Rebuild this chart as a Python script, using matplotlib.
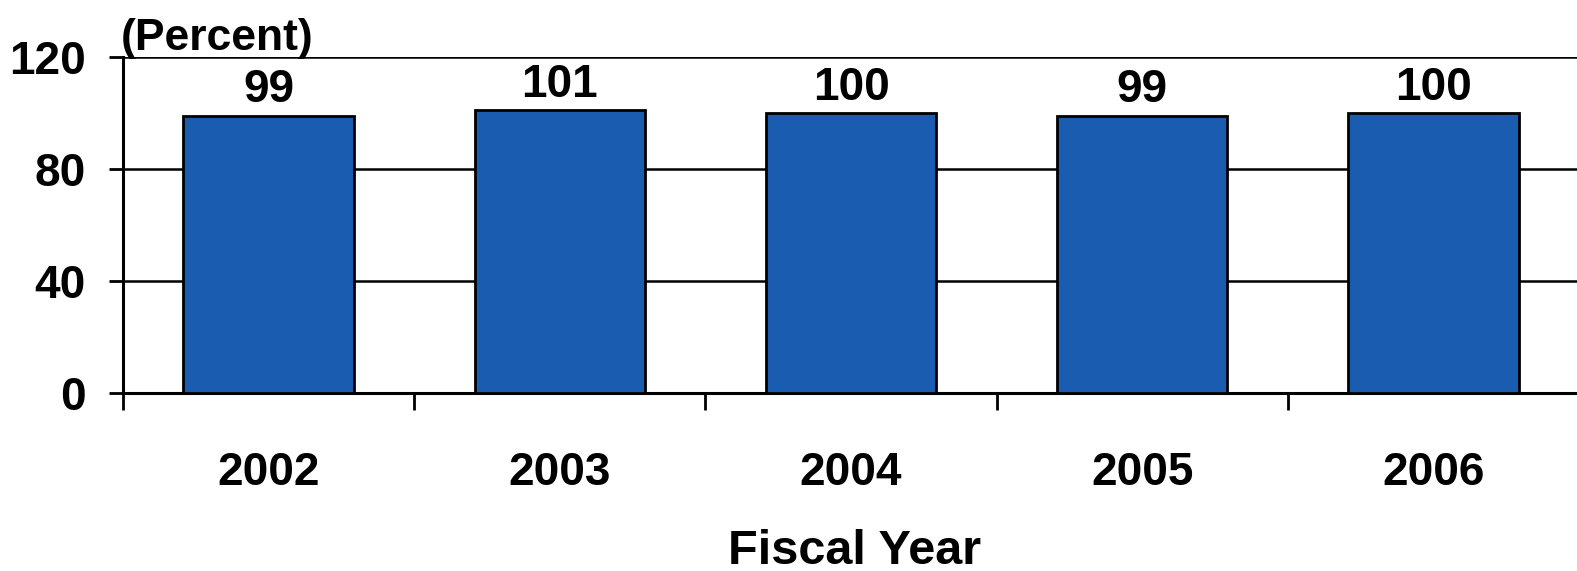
import matplotlib
matplotlib.use("Agg")
import matplotlib.pyplot as plt

years = ["2002", "2003", "2004", "2005", "2006"]
values = [99, 101, 100, 99, 100]
value_labels = ["99", "101", "100", "99", "100"]
yticks = [0, 40, 80, 120]

plt.rcParams['font.family'] = ['Liberation Sans', 'DejaVu Sans']
plt.rcParams['font.weight'] = 'bold'

fig = plt.figure(figsize=(15.77, 5.71), dpi=100)
ax = fig.add_axes([123/1577, 1 - 393/571, (1579 - 123)/1577, (393 - 57)/571])

x = list(range(len(years)))
bars = ax.bar(x, values, width=0.585, color='#1A5CB0', edgecolor='black', linewidth=2.0, zorder=3)
for xi, v, lab in zip(x, values, value_labels):
    ax.text(xi, v + 1.2, lab, ha='center', va='bottom', fontsize=33, fontweight='bold', zorder=4)

ax.set_xlim(-0.5, 4.5)
ax.set_ylim(0, 120)
ax.set_yticks(yticks)
ax.set_yticklabels([str(t) for t in yticks], fontsize=33, fontweight='bold')
ax.set_xticks([i + 0.5 for i in range(-1, 4)])
ax.set_xticklabels([])
ax.set_xticks(x, minor=True)
ax.set_xticklabels(years, minor=True, fontsize=33, fontweight='bold')
ax.tick_params(axis='x', which='minor', length=0, pad=42)
ax.tick_params(axis='x', which='major', length=12, width=2, direction='out', color='black')
ax.tick_params(axis='y', length=10, width=2, direction='out', pad=17)

for yv in [40, 80, 120]:
    ax.axhline(yv, color='black', linewidth=1.8, zorder=1)

for s in ['top', 'right']:
    ax.spines[s].set_visible(False)
ax.spines['left'].set_linewidth(2.2)
ax.spines['bottom'].set_linewidth(2.2)

fig.text(121/1577, 1 - 50/571, "(Percent)", ha='left', va='baseline', fontsize=32, fontweight='bold')
fig.text(855/1577, 1 - 564/571, "Fiscal Year", ha='center', va='baseline', fontsize=35, fontweight='bold')

fig.savefig("out.png", dpi=100, facecolor='white')
